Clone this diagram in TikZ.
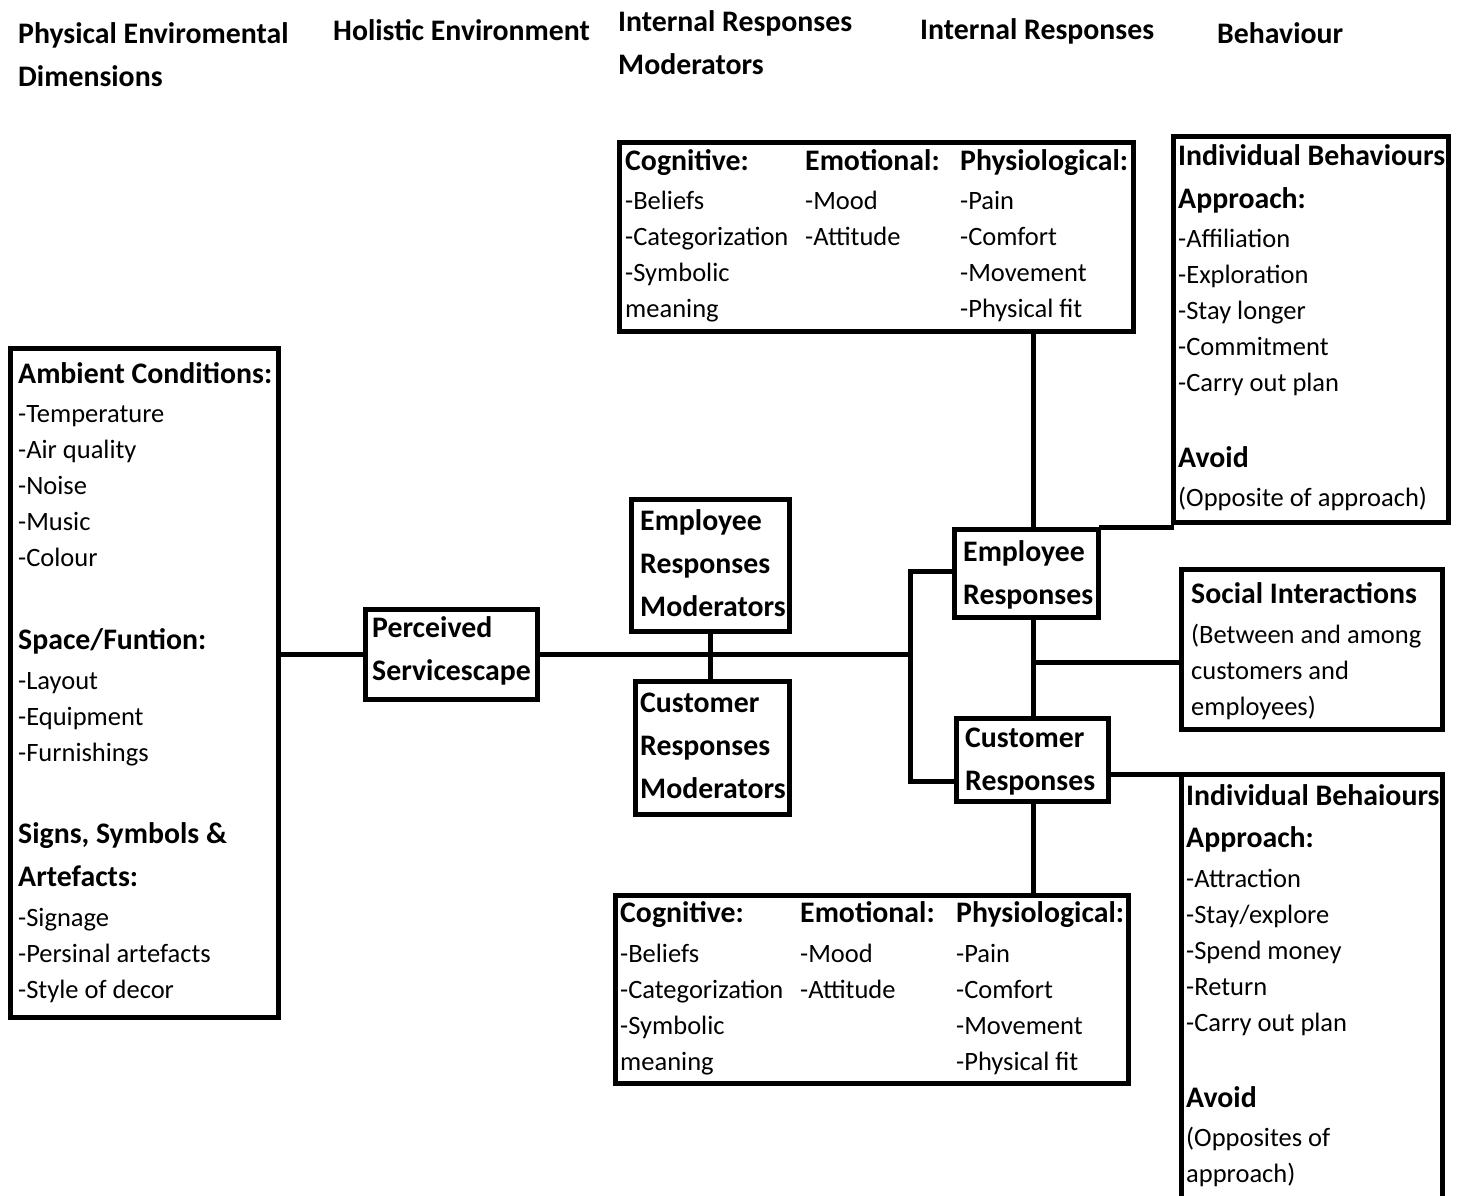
\documentclass[tikz,border=0pt]{standalone}
\usepackage{fontspec}
\setmainfont{Carlito}
\newcommand\bodyfnt{\fontsize{26.5}{30}\selectfont}
\newcommand\headfnt{\bfseries\fontsize{29.8}{34}\selectfont}
\begin{document}
\begin{tikzpicture}[x=1pt,y=-1pt,
  box/.style={draw, line width=5pt, anchor=north west, inner sep=0pt, outer sep=0pt},
  conn/.style={line width=5pt},
  t/.style={anchor=base west, inner sep=0pt, font=\bodyfnt},
  h/.style={anchor=base west, inner sep=0pt, font=\headfnt}]
\useasboundingbox (0,0) rectangle (1458,1195);
\clip (0,0) rectangle (1458,1195);
\fill[white] (0,0) rectangle (1458,1195);

% column headers
\node[h] (hd1) at (18,43) {Physical Enviromental};
\node[h] (hd1b) at (18,86) {Dimensions};
\node[h] (hd2) at (333,40) {Holistic Environment};
\node[h] (hd3) at (618,31) {Internal Responses};
\node[h] (hd3b) at (618,74) {Moderators};
\node[h] (hd4) at (920,39) {Internal Responses};
\node[h] (hd5) at (1217,43) {Behaviour};

% boxes
\node[box, minimum width=268, minimum height=669] (amb) at (10.5,348.5) {};
\node[box, minimum width=172, minimum height=90] (per) at (365.5,609.5) {};
\node[box, minimum width=158, minimum height=132] (erm) at (631.5,499.5) {};
\node[box, minimum width=154, minimum height=133] (crm) at (635.5,681.5) {};
\node[box, minimum width=514, minimum height=189] (cogT) at (619.5,142.5) {};
\node[box, minimum width=513, minimum height=188] (cogB) at (615.5,895.5) {};
\node[box, minimum width=144, minimum height=88] (er) at (954.5,529.5) {};
\node[box, minimum width=152, minimum height=83] (cr) at (956.5,718.5) {};
\node[box, minimum width=275, minimum height=386] (ibT) at (1173.5,136.5) {};
\node[box, minimum width=261, minimum height=160] (soc) at (1181.5,569.5) {};
\node[box, minimum width=261, minimum height=436] (ibB) at (1181.5,774.5) {};

% connectors
\coordinate (vx) at (1033,0);
\coordinate (j1) at (910,654.5);
\coordinate (ja) at (910,571);
\coordinate (jb) at (910,781);
\coordinate (js) at (1033,662);
\draw[conn] (per.west) -- (per.west -| amb.east);
\draw[conn] (per.east) -- (j1);
\draw[conn] (erm.south) -- (erm.south |- crm.north);
\draw[conn] (ja -| er.west) -- (ja) -- (jb) -- (jb -| cr.west);
\draw[conn] (cogT.south -| vx) -- (er.north -| vx);
\draw[conn] (er.south -| vx) -- (cr.north -| vx);
\draw[conn] (js) -- (js -| soc.west);
\draw[conn] ([yshift=2pt]er.north east) -- ([yshift=2pt]er.north east -| ibT.west);
\draw[conn] (cr.east |- ibB.north west) -- (ibB.north west);
\draw[conn] (cr.south -| vx) -- (cogB.north -| vx);

% left box text
\node[h] (amb1) at (18,383) {Ambient Conditions:};
\foreach \s [count=\i] in {{-Temperature},{-Air quality},{-Noise},{-Music},{-Colour}}
  \node[t] (amba\i) at (18,{422+36*(\i-1)}) {\s};
\node[h] (amb2) at (18,649) {Space/Funtion:};
\foreach \s [count=\i] in {{-Layout},{-Equipment},{-Furnishings}}
  \node[t] (ambb\i) at (18,{689+36*(\i-1)}) {\s};
\node[h] (amb3) at (18,843) {Signs, Symbols \&};
\node[h] (amb3b) at (18,886) {Artefacts:};
\foreach \s [count=\i] in {{-Signage},{-Persinal artefacts},{-Style of decor}}
  \node[t] (ambc\i) at (18,{926+36*(\i-1)}) {\s};

% perceived servicescape
\node[h] (per1) at (372,637) {Perceived};
\node[h] (per2) at (372,680) {Servicescape};

% moderators
\node[h] (erm1) at (640,530) {Employee};
\node[h] (erm2) at (640,573) {Responses};
\node[h] (erm3) at (640,616) {Moderators};
\node[h] (crm1) at (640,712) {Customer};
\node[h] (crm2) at (640,755) {Responses};
\node[h] (crm3) at (640,798) {Moderators};

% responses
\node[h] (er1) at (963,561) {Employee};
\node[h] (er2) at (963,604) {Responses};
\node[h] (cr1) at (965,747) {Customer};
\node[h] (cr2) at (965,790) {Responses};

% top cognitive box
\node[h] (ct1) at (625,170) {Cognitive:};
\node[h] (ct2) at (805,170) {Emotional:};
\node[h] (ct3) at (960,170) {Physiological:};
\foreach \s [count=\i] in {{-Beliefs},{-Categorization},{-Symbolic},{meaning}}
  \node[t] (cta\i) at (625,{209+36*(\i-1)}) {\s};
\foreach \s [count=\i] in {{-Mood},{-Attitude}}
  \node[t] (ctb\i) at (805,{209+36*(\i-1)}) {\s};
\foreach \s [count=\i] in {{-Pain},{-Comfort},{-Movement},{-Physical fit}}
  \node[t] (ctc\i) at (960,{209+36*(\i-1)}) {\s};

% bottom cognitive box
\node[h] (cb1) at (620,922) {Cognitive:};
\node[h] (cb2) at (800,922) {Emotional:};
\node[h] (cb3) at (956,922) {Physiological:};
\foreach \s [count=\i] in {{-Beliefs},{-Categorization},{-Symbolic},{meaning}}
  \node[t] (cba\i) at (620,{962+36*(\i-1)}) {\s};
\foreach \s [count=\i] in {{-Mood},{-Attitude}}
  \node[t] (cbb\i) at (800,{962+36*(\i-1)}) {\s};
\foreach \s [count=\i] in {{-Pain},{-Comfort},{-Movement},{-Physical fit}}
  \node[t] (cbc\i) at (956,{962+36*(\i-1)}) {\s};

% individual behaviours top
\node[h] (it1) at (1178,165) {Individual Behaviours};
\node[h] (it2) at (1178,208) {Approach:};
\foreach \s [count=\i] in {{-Affiliation},{-Exploration},{-Stay longer},{-Commitment},{-Carry out plan}}
  \node[t] (ita\i) at (1178,{247+36*(\i-1)}) {\s};
\node[h] (it3) at (1178,467) {Avoid};
\node[t] (it4) at (1178,506) {(Opposite of approach)};

% social interactions
\node[h] (so1) at (1191,603) {Social Interactions};
\foreach \s [count=\i] in {{(Between and among},{customers and},{employees)}}
  \node[t] (soa\i) at (1191,{643+36*(\i-1)}) {\s};

% individual behaviours bottom
\node[h] (ib1) at (1186,805) {Individual Behaiours};
\node[h] (ib2) at (1186,847) {Approach:};
\foreach \s [count=\i] in {{-Attraction},{-Stay/explore},{-Spend money},{-Return},{-Carry out plan}}
  \node[t] (iba\i) at (1186,{887+36*(\i-1)}) {\s};
\node[h] (ib3) at (1186,1107) {Avoid};
\node[t] (ib4) at (1186,1146) {(Opposites of};
\node[t] (ib5) at (1186,1182) {approach)};
\end{tikzpicture}
\end{document}
